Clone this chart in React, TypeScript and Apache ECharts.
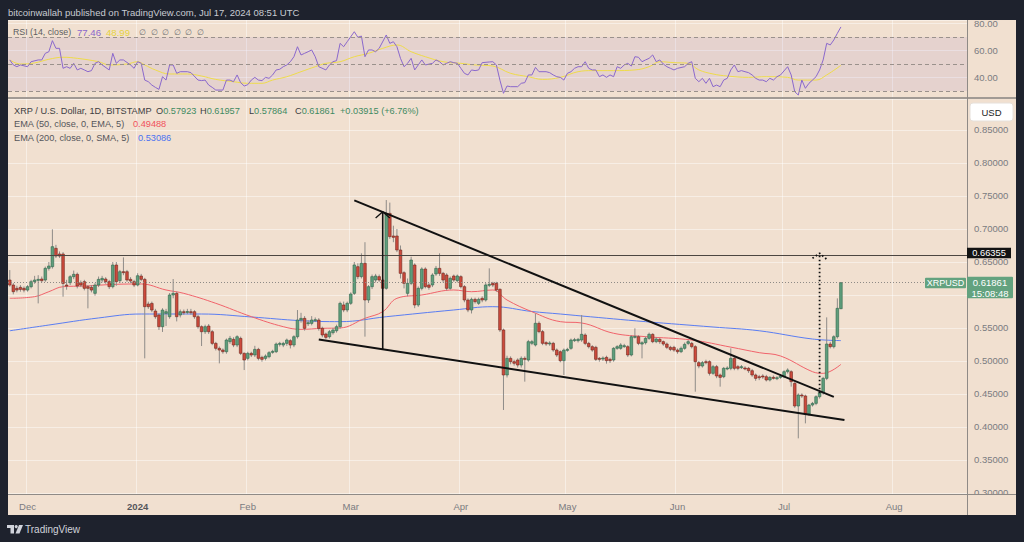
import React, { useEffect, useRef } from "react";
import * as echarts from "echarts";

// ---------------- DATA ----------------
const HEADER = "bitcoinwallah published on TradingView.com, Jul 17, 2024 08:51 UTC";
const SYMBOL_TITLE = "XRP / U.S. Dollar, 1D, BITSTAMP";
const OHLC_KEYS = ["O", "H", "L", "C"];
const OHLC_VALUES = ["0.57923", "0.61957", "0.57864", "0.61861"];
const CHANGE_TEXT = "+0.03915 (+6.76%)";
const EMA50_LABEL = "EMA (50, close, 0, EMA, 5)";
const EMA50_LAST = "0.49488";
const EMA200_LABEL = "EMA (200, close, 0, SMA, 5)";
const EMA200_LAST = "0.53086";
const RSI_LABEL = "RSI (14, close)";
const RSI_LAST = "77.46";
const RSI_MA_LAST = "48.99";
const H_LEVEL = 0.66355;
const LAST_CLOSE = 0.61861;
const LAST_TIME = "15:08:48";
const TICKER = "XRPUSD";
const CURRENCY = "USD";
const MONTHS = ["Jan", "Feb", "Mar", "Apr", "May", "Jun", "Jul", "Aug", "Sep", "Oct", "Nov", "Dec"];

// daily categories from 2023-11-26 to 2024-08-21
const START_DATE = [2023, 10, 26];
const DAY_COUNT = 270;
const categories: string[] = [];
for (let k = 0; k < DAY_COUNT; k++) {
  const d = new Date(Date.UTC(START_DATE[0], START_DATE[1], START_DATE[2] + k));
  categories.push(d.toISOString().slice(0, 10));
}

// candles [open, close, low, high], one per day starting 2023-11-26
const candles: number[][] = [
  [0.6227, 0.6151, 0.6126, 0.6378], [0.6151, 0.605, 0.601, 0.618], [0.6101, 0.6075, 0.604, 0.614], [0.6116, 0.6085, 0.605, 0.615], [0.6101, 0.6075, 0.604, 0.613],
  [0.6075, 0.6126, 0.605, 0.615], [0.6126, 0.6202, 0.61, 0.623], [0.6202, 0.6227, 0.617, 0.629], [0.6227, 0.6237, 0.5873, 0.63], [0.6242, 0.6217, 0.619, 0.628],
  [0.6227, 0.6404, 0.62, 0.643], [0.6404, 0.6439, 0.637, 0.65], [0.6429, 0.6732, 0.64, 0.6995], [0.6707, 0.659, 0.656, 0.676], [0.6621, 0.659, 0.656, 0.666],
  [0.6621, 0.6176, 0.5974, 0.665], [0.6151, 0.6136, 0.608, 0.623], [0.6186, 0.6277, 0.615, 0.63], [0.6277, 0.6313, 0.624, 0.637], [0.6313, 0.6136, 0.61, 0.634],
  [0.6186, 0.6151, 0.612, 0.622], [0.6202, 0.6101, 0.607, 0.623], [0.6126, 0.6101, 0.5798, 0.615], [0.6116, 0.6075, 0.604, 0.615], [0.6025, 0.6151, 0.599, 0.618],
  [0.6151, 0.6237, 0.612, 0.628], [0.6227, 0.6252, 0.619, 0.629], [0.6242, 0.6202, 0.617, 0.627], [0.6202, 0.6126, 0.609, 0.623], [0.6126, 0.6454, 0.61, 0.65],
  [0.6454, 0.6202, 0.614, 0.65], [0.6217, 0.6353, 0.618, 0.638], [0.6353, 0.6343, 0.63, 0.657], [0.6353, 0.6227, 0.62, 0.638], [0.6237, 0.6212, 0.618, 0.627],
  [0.6202, 0.6151, 0.612, 0.623], [0.6151, 0.6292, 0.613, 0.633], [0.6287, 0.6237, 0.621, 0.632], [0.6237, 0.5823, 0.504, 0.626], [0.5863, 0.5823, 0.579, 0.59],
  [0.5873, 0.5772, 0.574, 0.59], [0.5757, 0.5671, 0.564, 0.579], [0.5697, 0.552, 0.547, 0.572], [0.552, 0.5772, 0.544, 0.58], [0.5722, 0.5747, 0.553, 0.579],
  [0.5671, 0.6, 0.564, 0.603], [0.6, 0.6025, 0.595, 0.6242], [0.6025, 0.5671, 0.56, 0.605], [0.5697, 0.5747, 0.566, 0.578], [0.5747, 0.5732, 0.57, 0.578],
  [0.574, 0.575, 0.571, 0.579], [0.5747, 0.574, 0.57, 0.579], [0.5747, 0.5671, 0.564, 0.577], [0.5671, 0.552, 0.549, 0.57], [0.552, 0.5444, 0.5227, 0.554],
  [0.5444, 0.552, 0.541, 0.555], [0.553, 0.5444, 0.541, 0.556], [0.5444, 0.5267, 0.524, 0.547], [0.5267, 0.5192, 0.516, 0.529], [0.5192, 0.5166, 0.4964, 0.522],
  [0.5166, 0.5141, 0.511, 0.519], [0.5141, 0.5318, 0.511, 0.534], [0.5293, 0.5343, 0.526, 0.538], [0.5328, 0.5242, 0.521, 0.536], [0.5242, 0.5368, 0.521, 0.539],
  [0.5343, 0.5116, 0.509, 0.537], [0.5116, 0.5015, 0.4863, 0.513], [0.504, 0.5116, 0.501, 0.514], [0.5116, 0.5091, 0.506, 0.514], [0.5091, 0.5176, 0.506, 0.523],
  [0.5176, 0.504, 0.501, 0.52], [0.5055, 0.5025, 0.499, 0.508], [0.504, 0.5075, 0.501, 0.51], [0.5065, 0.5126, 0.504, 0.515], [0.5136, 0.5146, 0.511, 0.517],
  [0.5141, 0.5257, 0.512, 0.528], [0.5257, 0.5267, 0.522, 0.529], [0.5242, 0.5267, 0.521, 0.529], [0.5267, 0.5318, 0.523, 0.534], [0.5308, 0.5242, 0.519, 0.533],
  [0.5242, 0.5368, 0.521, 0.539], [0.5368, 0.5621, 0.534, 0.5772], [0.5621, 0.5646, 0.558, 0.573], [0.5646, 0.5495, 0.546, 0.568], [0.557, 0.558, 0.553, 0.562],
  [0.557, 0.5621, 0.554, 0.568], [0.5621, 0.5626, 0.559, 0.566], [0.5621, 0.5495, 0.546, 0.565], [0.5495, 0.5394, 0.536, 0.552], [0.5409, 0.5358, 0.533, 0.543],
  [0.5368, 0.5444, 0.534, 0.547], [0.5429, 0.5469, 0.54, 0.55], [0.5459, 0.552, 0.543, 0.555], [0.552, 0.5873, 0.549, 0.59], [0.5849, 0.5773, 0.574, 0.59],
  [0.5773, 0.5874, 0.574, 0.59], [0.5874, 0.6015, 0.585, 0.604], [0.6025, 0.6455, 0.6, 0.65], [0.6429, 0.6278, 0.624, 0.648], [0.6278, 0.648, 0.625, 0.6631],
  [0.648, 0.5924, 0.5369, 0.68], [0.5924, 0.6126, 0.588, 0.615], [0.6126, 0.6278, 0.609, 0.631], [0.6227, 0.6288, 0.619, 0.632], [0.6278, 0.6227, 0.62, 0.631],
  [0.6227, 0.6101, 0.607, 0.625], [0.6101, 0.7237, 0.608, 0.7439], [0.7237, 0.6884, 0.685, 0.74], [0.6894, 0.6874, 0.68, 0.705], [0.6894, 0.6682, 0.665, 0.7],
  [0.6682, 0.6328, 0.625, 0.675], [0.6338, 0.6177, 0.61, 0.636], [0.6025, 0.6177, 0.598, 0.625], [0.6177, 0.653, 0.615, 0.658], [0.6455, 0.5849, 0.58, 0.648],
  [0.5849, 0.6101, 0.582, 0.613], [0.6101, 0.6394, 0.607, 0.642], [0.6394, 0.6126, 0.61, 0.642], [0.6152, 0.6116, 0.608, 0.618], [0.6152, 0.6303, 0.612, 0.633],
  [0.6318, 0.6404, 0.629, 0.644], [0.6404, 0.6328, 0.629, 0.6631], [0.6328, 0.6227, 0.619, 0.635], [0.6303, 0.6101, 0.607, 0.633], [0.6101, 0.6253, 0.608, 0.628],
  [0.6288, 0.6227, 0.62, 0.631], [0.6217, 0.6288, 0.619, 0.631], [0.6278, 0.6126, 0.61, 0.63], [0.6126, 0.5924, 0.589, 0.615], [0.5924, 0.5773, 0.574, 0.595],
  [0.5773, 0.5934, 0.572, 0.596], [0.5934, 0.5899, 0.587, 0.596], [0.5874, 0.5934, 0.585, 0.596], [0.595, 0.5924, 0.589, 0.598], [0.5924, 0.6152, 0.59, 0.618],
  [0.6152, 0.6162, 0.612, 0.6404], [0.6177, 0.6152, 0.612, 0.62], [0.6177, 0.6076, 0.605, 0.62], [0.6086, 0.547, 0.544, 0.61], [0.547, 0.4788, 0.4258, 0.549],
  [0.4788, 0.504, 0.475, 0.508], [0.504, 0.499, 0.495, 0.507], [0.499, 0.4965, 0.493, 0.502], [0.5015, 0.4939, 0.49, 0.504], [0.4939, 0.504, 0.49, 0.507],
  [0.504, 0.5025, 0.4687, 0.507], [0.5015, 0.5293, 0.499, 0.532], [0.5268, 0.5293, 0.524, 0.532], [0.5242, 0.5571, 0.522, 0.572], [0.5571, 0.5445, 0.542, 0.56],
  [0.5445, 0.5268, 0.524, 0.547], [0.5278, 0.5258, 0.523, 0.53], [0.5263, 0.5273, 0.523, 0.53], [0.5268, 0.5167, 0.514, 0.529], [0.5167, 0.5091, 0.506, 0.519],
  [0.5141, 0.5005, 0.498, 0.516], [0.5005, 0.5166, 0.4788, 0.519], [0.5166, 0.5176, 0.514, 0.52], [0.5192, 0.5318, 0.517, 0.534], [0.5318, 0.5323, 0.529, 0.535],
  [0.5308, 0.5328, 0.528, 0.535], [0.5318, 0.5404, 0.529, 0.5697], [0.5394, 0.5267, 0.524, 0.542], [0.5267, 0.5217, 0.519, 0.529], [0.5217, 0.5166, 0.514, 0.524],
  [0.5207, 0.5025, 0.5, 0.523], [0.504, 0.5025, 0.499, 0.506], [0.504, 0.5045, 0.5, 0.507], [0.5055, 0.5005, 0.496, 0.508], [0.5025, 0.5005, 0.497, 0.505],
  [0.5015, 0.5192, 0.499, 0.521], [0.5192, 0.5217, 0.517, 0.524], [0.5192, 0.5242, 0.517, 0.527], [0.5227, 0.5232, 0.52, 0.526], [0.5217, 0.5091, 0.506, 0.524],
  [0.5091, 0.5368, 0.507, 0.539], [0.5368, 0.5373, 0.534, 0.5495], [0.5368, 0.5267, 0.524, 0.539], [0.5257, 0.5277, 0.504, 0.53], [0.5277, 0.5343, 0.525, 0.537],
  [0.5343, 0.5404, 0.532, 0.543], [0.5404, 0.5293, 0.527, 0.542], [0.5293, 0.5333, 0.527, 0.536], [0.5328, 0.5293, 0.526, 0.535], [0.5293, 0.5257, 0.523, 0.531],
  [0.5257, 0.5207, 0.518, 0.528], [0.5207, 0.5176, 0.515, 0.523], [0.5207, 0.5166, 0.514, 0.523], [0.5166, 0.5141, 0.511, 0.519], [0.5141, 0.5192, 0.512, 0.522],
  [0.5192, 0.5252, 0.517, 0.528], [0.5267, 0.5293, 0.524, 0.532], [0.5267, 0.5217, 0.519, 0.529], [0.5217, 0.499, 0.4535, 0.524], [0.4975, 0.4924, 0.489, 0.5],
  [0.4924, 0.4975, 0.49, 0.5], [0.499, 0.4985, 0.495, 0.502], [0.499, 0.4813, 0.478, 0.501], [0.4813, 0.4914, 0.479, 0.494], [0.4914, 0.4773, 0.474, 0.494],
  [0.4788, 0.4752, 0.4611, 0.481], [0.4762, 0.4889, 0.474, 0.491], [0.4889, 0.4894, 0.486, 0.492], [0.4889, 0.504, 0.486, 0.5192], [0.504, 0.4889, 0.486, 0.506],
  [0.4914, 0.4889, 0.486, 0.494], [0.4904, 0.4914, 0.488, 0.494], [0.4894, 0.4889, 0.486, 0.492], [0.4889, 0.4853, 0.482, 0.491], [0.4853, 0.4788, 0.476, 0.488],
  [0.4788, 0.4737, 0.47, 0.481], [0.4762, 0.4747, 0.471, 0.479], [0.4773, 0.4762, 0.473, 0.48], [0.4762, 0.4712, 0.469, 0.479], [0.4712, 0.4752, 0.469, 0.477],
  [0.4752, 0.4747, 0.472, 0.478], [0.4737, 0.4747, 0.471, 0.477], [0.4752, 0.4773, 0.473, 0.48], [0.4762, 0.4838, 0.474, 0.486], [0.4838, 0.4863, 0.481, 0.4889],
  [0.4838, 0.4687, 0.4611, 0.486], [0.4661, 0.4318, 0.429, 0.468], [0.4318, 0.4485, 0.3828, 0.451], [0.4485, 0.447, 0.444, 0.451], [0.447, 0.4197, 0.4055, 0.449],
  [0.4197, 0.4333, 0.417, 0.435], [0.4333, 0.4358, 0.431, 0.438], [0.4358, 0.4459, 0.433, 0.448], [0.4459, 0.452, 0.443, 0.454], [0.452, 0.4737, 0.449, 0.476],
  [0.4737, 0.5257, 0.471, 0.5661], [0.5257, 0.5217, 0.519, 0.529], [0.5217, 0.5368, 0.519, 0.539], [0.5368, 0.5798, 0.534, 0.5949], [0.57923, 0.61861, 0.57864, 0.61957],
];

// moving averages: [day index, value]
const ema50: number[][] = [
  [0, 0.595], [7, 0.5975], [11, 0.605], [15, 0.6126], [21, 0.6136], [30, 0.6162], [37, 0.6167], [44, 0.6076], [49, 0.6025],
  [58, 0.5874], [68, 0.5672], [77, 0.552], [82, 0.548], [88, 0.5495], [93, 0.55], [100, 0.5647], [105, 0.5747], [109, 0.595],
  [116, 0.6], [125, 0.6076], [130, 0.605], [136, 0.6076], [140, 0.5924], [147, 0.5747], [155, 0.5596], [161, 0.5576],
  [170, 0.542], [179, 0.5369], [192, 0.5318], [203, 0.521], [211, 0.5126], [217, 0.5076], [226, 0.4838], [229, 0.4813], [234, 0.4949],
];
const ema200: number[][] = [
  [0, 0.5458], [11, 0.5545], [25, 0.5652], [37, 0.5712], [54, 0.5712], [68, 0.5667], [82, 0.5611], [93, 0.5596], [106, 0.5671],
  [125, 0.5773], [136, 0.5823], [147, 0.575], [155, 0.5712], [161, 0.5682], [179, 0.5596], [198, 0.5515], [211, 0.5458], [226, 0.5333], [234, 0.5309],
];
const rsi: number[][] = [
  [0, 53], [1, 49.3], [2, 48], [3, 49.3], [5, 48], [6, 51.7], [8, 53], [9, 53], [10, 57.9], [11, 59.1], [12, 67.3], [13, 61.6], [14, 61.6],
  [15, 46.8], [16, 48], [17, 46.8], [18, 50.5], [19, 45.6], [20, 46.8], [21, 45.6], [22, 44.3], [23, 45.1], [24, 50.5], [25, 51.7], [26, 49.3],
  [28, 45.6], [29, 57.9], [30, 50.5], [31, 53], [32, 53], [34, 49.3], [35, 46.8], [36, 51.7], [37, 50.5], [38, 38.1], [39, 36.9], [40, 34.4],
  [41, 32.7], [42, 31.2], [43, 40.6], [44, 38.1], [45, 49.3], [46, 49.3], [47, 43.1], [48, 44.3], [50, 44.3], [51, 43.6], [53, 38.1], [54, 37.7],
  [55, 38.1], [56, 34.4], [57, 32.7], [58, 30.7], [60, 30.7], [61, 38.1], [62, 38.1], [63, 36.9], [64, 41.9], [65, 36.2], [66, 33.7], [67, 34.7],
  [68, 38.1], [69, 40.1], [70, 38.1], [71, 37.7], [72, 40.1], [73, 39.4], [74, 41.9], [75, 45.6], [76, 46.1], [77, 48], [78, 49.3], [79, 51.7],
  [80, 55.4], [81, 62.8], [82, 56.7], [83, 57.9], [84, 59.1], [85, 60.4], [86, 55.4], [87, 48], [89, 45.6], [90, 49.3], [91, 51.7], [92, 52.5],
  [93, 65.3], [94, 62.8], [95, 66.5], [97, 73.9], [98, 69.8], [99, 70.7], [100, 55.4], [101, 60.4], [102, 60.4], [103, 59.1], [104, 61.6],
  [106, 71.5], [107, 65.3], [108, 66.5], [109, 62.8], [110, 54.2], [111, 48], [112, 50.5], [113, 54.2], [114, 45.6], [115, 49.3], [116, 53],
  [117, 49.3], [119, 50.5], [120, 53], [121, 51.7], [122, 49.3], [123, 50.5], [124, 51.7], [125, 51], [126, 50.5], [127, 46.8], [128, 43.1],
  [129, 41.9], [130, 45.6], [131, 45.1], [132, 45.6], [133, 51], [135, 51.5], [136, 51.7], [137, 49.3], [138, 38], [139, 28.3], [140, 33.7],
  [141, 33.2], [143, 33.2], [144, 35.7], [145, 36.2], [146, 41.9], [147, 41.9], [148, 47.5], [149, 44.3], [151, 44.3], [152, 43.6], [153, 41.9],
  [154, 40.6], [155, 40.1], [156, 38.1], [157, 43.1], [158, 44.3], [159, 46.8], [160, 48], [161, 48], [162, 51.7], [163, 46.8], [164, 45.6],
  [165, 45.6], [166, 40.6], [167, 41.9], [168, 40.1], [169, 41.9], [170, 40.6], [171, 48], [172, 46.8], [173, 49.3], [174, 50.5], [175, 48.5],
  [176, 55.4], [177, 55], [178, 51.7], [179, 53], [180, 54.2], [181, 56.7], [182, 51.7], [183, 53], [184, 50], [185, 48], [186, 46.8],
  [187, 45.6], [188, 46.8], [190, 48], [191, 50.5], [192, 51.7], [193, 39.4], [194, 36.9], [195, 39.4], [196, 35.7], [197, 39.4], [198, 33.2],
  [199, 34.4], [200, 33.2], [201, 38.1], [202, 39.4], [203, 45.6], [204, 49.3], [205, 44.3], [206, 45.1], [207, 44.3], [208, 43.6], [209, 41.9],
  [210, 39.4], [211, 38.1], [212, 38.1], [213, 36.9], [214, 39.4], [215, 38.1], [216, 40.6], [217, 41.9], [219, 48], [220, 41.9], [221, 29.5],
  [222, 27], [223, 38.1], [224, 32], [225, 35.7], [226, 38.1], [227, 40.6], [228, 45.6], [229, 53], [230, 65.3], [231, 64.1], [232, 67.8],
  [233, 72.7], [234, 77.46],
];
const rsiMa: number[][] = [
  [0, 53], [3, 50], [7, 50.8], [11, 53.5], [15, 55], [19, 54.2], [25, 51.7], [28, 49.3], [33, 50], [36, 51.7], [38, 49.3], [41, 45.6],
  [45, 42.6], [50, 42.6], [54, 41.1], [58, 38.6], [63, 36.9], [67, 35.7], [71, 35.7], [74, 38.1], [78, 40.6], [82, 44.3], [86, 48], [89, 50.5],
  [93, 51.7], [97, 55.4], [101, 57.9], [105, 61.6], [109, 64.1], [113, 59.1], [117, 55.4], [122, 51.7], [127, 50.5], [131, 49.3], [136, 48.5],
  [141, 43.1], [146, 40.6], [150, 38.6], [155, 40.1], [160, 44.3], [164, 45.1], [170, 45.1], [176, 45.6], [180, 48], [183, 51.7], [187, 51],
  [191, 50.5], [194, 45.6], [198, 42.6], [202, 41.1], [208, 40.1], [213, 40.6], [219, 40.1], [222, 38.1], [227, 38.1], [230, 41.9], [234, 48.99],
];

// drawn annotations: [day index, price]
const upperTrend: number[][] = [[97, 0.7433], [232, 0.4456]];
const lowerTrend: number[][] = [[87, 0.5327], [235, 0.4105]];
const poleLine: number[][] = [[105, 0.7262], [105, 0.5182]];
const poleArrow: number[][] = [[103, 0.7167], [105, 0.7262], [107, 0.7167]];
const targetLine: number[][] = [[228, 0.4511], [228, 0.6632]];
const targetArrow: number[][] = [[226, 0.6556], [228, 0.6632], [230, 0.6541]];

// ---------------- STYLE ----------------
const BG = "#f1e0d0";
const DARK = "#1e222d";
const GRIDC = "rgba(255,255,255,0.45)";
const AXIS_TXT = "#7a7b80";
const FONT = "'Liberation Sans', Arial, sans-serif";
const UP_FILL = "#5f9e7c";
const UP_EDGE = "#2f6549";
const DN_FILL = "#cd4a3c";
const DN_EDGE = "#6e261f";
const WICK = "#8e8b88";
const GREEN_BOX = "#63a27f";

function isMonthStart(_i: number, v: string) {
  return typeof v === "string" && v.endsWith("-01");
}
function near(v: number, step: number) {
  return Math.abs(v / step - Math.round(v / step)) < 1e-6;
}

export default function App() {
  const ref = useRef<HTMLDivElement>(null);
  useEffect(() => {
    if (!ref.current) return;
    const chart = echarts.init(ref.current, undefined, { renderer: "svg" });

    const annLine = (name: string, data: number[][], width: number, type: any = "solid") => ({
      name,
      type: "line",
      xAxisIndex: 1,
      yAxisIndex: 1,
      data,
      symbol: "none",
      silent: true,
      z: 5,
      lineStyle: { color: "#111", width, type },
    });

    const option: any = {
      animation: false,
      backgroundColor: BG,
      textStyle: { fontFamily: FONT },
      grid: [
        { left: 8, top: 20, width: 959, height: 77 },
        { left: 8, top: 99, width: 959, height: 395 },
      ],
      xAxis: [0, 1].map((gi) => ({
        type: "category",
        gridIndex: gi,
        data: categories,
        boundaryGap: true,
        axisLine: { show: false },
        axisTick: { show: false },
        splitLine: { show: true, interval: isMonthStart, lineStyle: { color: GRIDC, width: 1 } },
        axisLabel: {
          show: gi === 1,
          interval: isMonthStart,
          margin: 7,
          color: AXIS_TXT,
          fontSize: 9.5,
          fontFamily: FONT,
          formatter: (v: string) => {
            const m = +v.slice(5, 7);
            if (m === 1) return "{b|" + v.slice(0, 4) + "}";
            return MONTHS[m - 1];
          },
          rich: { b: { fontWeight: "bold", color: "#55565b", fontSize: 9.5, fontFamily: FONT } },
        },
      })),
      yAxis: [
        {
          type: "value",
          gridIndex: 0,
          position: "right",
          min: 25.56,
          max: 82.59,
          splitNumber: 3,
          axisLine: { show: false },
          axisTick: { show: false },
          splitLine: { show: true, lineStyle: { color: GRIDC } },
          axisLabel: {
            color: AXIS_TXT,
            fontSize: 9.5,
            fontFamily: FONT,
            margin: 7,
            formatter: (v: number) => (near(v, 20) ? v.toFixed(2) : ""),
          },
        },
        {
          type: "value",
          gridIndex: 1,
          position: "right",
          min: 0.29848,
          max: 0.89697,
          splitNumber: 12,
          axisLine: { show: false },
          axisTick: { show: false },
          splitLine: { show: true, lineStyle: { color: GRIDC } },
          axisLabel: {
            color: AXIS_TXT,
            fontSize: 9.5,
            fontFamily: FONT,
            margin: 7,
            // the 0.60000 label sits under the last-price tag in the reference
            formatter: (v: number) => (near(v, 0.05) && Math.abs(v - 0.6) > 1e-6 ? v.toFixed(5) : ""),
          },
        },
      ],
      series: [
        {
          name: "RSI",
          type: "line",
          xAxisIndex: 0,
          yAxisIndex: 0,
          data: rsi,
          symbol: "none",
          lineStyle: { color: "#8a68cc", width: 1 },
          z: 4,
          markArea: {
            silent: true,
            itemStyle: { color: "rgba(126,87,194,0.10)" },
            data: [[{ yAxis: 30 }, { yAxis: 70 }]],
          },
          markLine: {
            silent: true,
            symbol: "none",
            label: { show: false },
            lineStyle: { color: "#9a918c", type: [4, 3], width: 1 },
            data: [{ yAxis: 70 }, { yAxis: 50 }, { yAxis: 30 }],
          },
        },
        {
          name: "RSI MA",
          type: "line",
          xAxisIndex: 0,
          yAxisIndex: 0,
          data: rsiMa,
          symbol: "none",
          smooth: 0.4,
          lineStyle: { color: "#eedb4a", width: 1 },
          z: 3,
        },
        {
          name: "EMA200",
          type: "line",
          xAxisIndex: 1,
          yAxisIndex: 1,
          data: ema200,
          symbol: "none",
          smooth: 0.4,
          lineStyle: { color: "#5a7df2", width: 1 },
          z: 3,
          markLine: {
            silent: true,
            symbol: "none",
            label: { show: false },
            data: [
              { yAxis: H_LEVEL, lineStyle: { color: "#4c4641", width: 1, type: "solid" } },
              { yAxis: LAST_CLOSE, lineStyle: { color: "#8e8a86", width: 1, type: [1, 2] } },
            ],
          },
        },
        {
          name: "EMA50",
          type: "line",
          xAxisIndex: 1,
          yAxisIndex: 1,
          data: ema50,
          symbol: "none",
          smooth: 0.4,
          lineStyle: { color: "#f0636b", width: 1 },
          z: 3,
        },
        {
          name: "XRPUSD",
          type: "custom",
          xAxisIndex: 1,
          yAxisIndex: 1,
          z: 4,
          data: candles.map((c, i) => [i, c[0], c[1], c[2], c[3]]),
          encode: { x: 0, y: [1, 2, 3, 4] },
          renderItem: (_p: any, api: any) => {
            const i = api.value(0);
            const o = api.value(1);
            const c = api.value(2);
            const l = api.value(3);
            const h = api.value(4);
            const pO = api.coord([i, o]);
            const pC = api.coord([i, c]);
            const pL = api.coord([i, l]);
            const pH = api.coord([i, h]);
            const w = api.size([1, 0])[0] * 0.74;
            const up = c >= o;
            const top = Math.min(pO[1], pC[1]);
            const hh = Math.max(1, Math.abs(pO[1] - pC[1]));
            return {
              type: "group",
              children: [
                { type: "line", shape: { x1: pO[0], y1: pH[1], x2: pO[0], y2: pL[1] }, style: { stroke: WICK, lineWidth: 1 } },
                {
                  type: "rect",
                  shape: { x: pO[0] - w / 2, y: top, width: w, height: hh },
                  style: { fill: up ? UP_FILL : DN_FILL, stroke: up ? UP_EDGE : DN_EDGE, lineWidth: 0.6 },
                },
              ],
            };
          },
        },
        annLine("upper trend", upperTrend, 2),
        annLine("lower trend", lowerTrend, 2),
        annLine("pole", poleLine, 1.6),
        annLine("pole arrow", poleArrow, 1.3),
        annLine("target", targetLine, 1.8, [1.6, 2.4]),
        annLine("target arrow", targetArrow, 1.8, [1.6, 2.4]),
      ],
    };
    chart.setOption(option);

    const yH = chart.convertToPixel({ yAxisIndex: 1 }, H_LEVEL) as unknown as number;
    const yP = chart.convertToPixel({ yAxisIndex: 1 }, LAST_CLOSE) as unknown as number;

    const txt = (x: number, y: number, text: string, size: number, fill: string, align = "left", weight = "normal") => ({
      type: "text",
      x,
      y,
      z: 50,
      style: { text, font: `${weight} ${size}px ${FONT}`, fill, verticalAlign: "middle", align },
    });

    const LEG = 9.2;
    const ohlcX = [156, 200, 249, 295];
    const ohlcEls: any[] = OHLC_KEYS.map((k, idx) => ({
      type: "text",
      x: ohlcX[idx],
      y: 110.5,
      z: 50,
      style: {
        text: `{a|${k}}{v|${OHLC_VALUES[idx]}}`,
        verticalAlign: "middle",
        rich: { a: { fill: "#3d3e42", font: `${LEG}px ${FONT}` }, v: { fill: "#3f8a62", font: `${LEG}px ${FONT}` } },
      },
    }));

    const graphic: any[] = [
      // dark frame
      { type: "rect", z: 40, shape: { x: 0, y: 0, width: 1024, height: 20 }, style: { fill: DARK } },
      { type: "rect", z: 40, shape: { x: 0, y: 0, width: 8, height: 542 }, style: { fill: DARK } },
      { type: "rect", z: 40, shape: { x: 1016, y: 0, width: 8, height: 542 }, style: { fill: DARK } },
      { type: "rect", z: 40, shape: { x: 0, y: 515, width: 1024, height: 27 }, style: { fill: DARK } },
      // corner below the price scale hides the lower half of the last tick label
      { type: "rect", z: 40, shape: { x: 968, y: 495, width: 48, height: 20 }, style: { fill: BG } },
      // separators
      { type: "rect", z: 41, shape: { x: 8, y: 97, width: 1008, height: 2 }, style: { fill: "#a19a94" } },
      { type: "line", z: 41, shape: { x1: 8, y1: 494.5, x2: 1016, y2: 494.5 }, style: { stroke: "#8f8a86", lineWidth: 1 } },
      { type: "line", z: 41, shape: { x1: 967.5, y1: 20, x2: 967.5, y2: 515 }, style: { stroke: "#8f8a86", lineWidth: 1 } },
      // header
      txt(8, 12.5, HEADER, 9.5, "#c8cbd2"),
      // RSI legend
      txt(13, 32, RSI_LABEL, 8.8, "#5d5e63"),
      txt(77, 32, RSI_LAST, 9.6, "#8a68cc"),
      txt(106, 32, RSI_MA_LAST, 9.6, "#e5d23e"),
      ...[0, 1, 2, 3, 4, 5].map((k) => txt(139 + k * 11.6, 32, "∅", 8, "#6e6f74")),
      // price legend
      txt(14, 110.5, SYMBOL_TITLE, LEG, "#3d3e42"),
      ...ohlcEls,
      txt(340, 110.5, CHANGE_TEXT, LEG, "#3f8a62"),
      txt(14, 124, EMA50_LABEL, LEG, "#55565b"),
      txt(133, 124, EMA50_LAST, LEG, "#f0525c"),
      txt(14, 137.5, EMA200_LABEL, LEG, "#55565b"),
      txt(138, 137.5, EMA200_LAST, LEG, "#4a72f0"),
      // USD box
      { type: "rect", z: 45, shape: { x: 970, y: 103, width: 43, height: 18, r: 3 }, style: { fill: "#ffffff", stroke: "#e6e0da", lineWidth: 1 } },
      txt(991.5, 112, CURRENCY, 9.5, "#222", "center"),
      // horizontal level price tag
      { type: "rect", z: 45, shape: { x: 967, y: yH - 5.3, width: 44, height: 10.6 }, style: { fill: "#131313" } },
      txt(989, yH, H_LEVEL.toFixed(5), 9.3, "#ffffff", "center"),
      // last price tags
      { type: "rect", z: 45, shape: { x: 967, y: yP - 6, width: 46, height: 21.5, r: 1 }, style: { fill: GREEN_BOX } },
      txt(990, yP, LAST_CLOSE.toFixed(5), 9.5, "#ffffff", "center"),
      txt(990, yP + 10.5, LAST_TIME, 9.5, "#ffffff", "center"),
      { type: "rect", z: 45, shape: { x: 925, y: yP - 5, width: 41, height: 10.5, r: 1 }, style: { fill: GREEN_BOX } },
      txt(945.5, yP + 0.3, TICKER, 9, "#ffffff", "center"),
      // footer logo
      { type: "rect", z: 45, shape: { x: 7, y: 525, width: 7, height: 3 }, style: { fill: "#d1d4dc" } },
      { type: "rect", z: 45, shape: { x: 10.5, y: 525, width: 3.5, height: 8.5 }, style: { fill: "#d1d4dc" } },
      { type: "circle", z: 45, shape: { cx: 16.2, cy: 526.6, r: 1.6 }, style: { fill: "#d1d4dc" } },
      { type: "polygon", z: 45, shape: { points: [[19, 525], [23, 525], [19.5, 533.5], [15.5, 533.5]] }, style: { fill: "#d1d4dc" } },
      txt(25, 529.5, "TradingView", 10, "#d1d4dc"),
    ];
    chart.setOption({ graphic: { elements: graphic } });

    return () => chart.dispose();
  }, []);

  return <div ref={ref} style={{ position: "fixed", left: 0, top: 0, width: 1024, height: 542 }} />;
}
